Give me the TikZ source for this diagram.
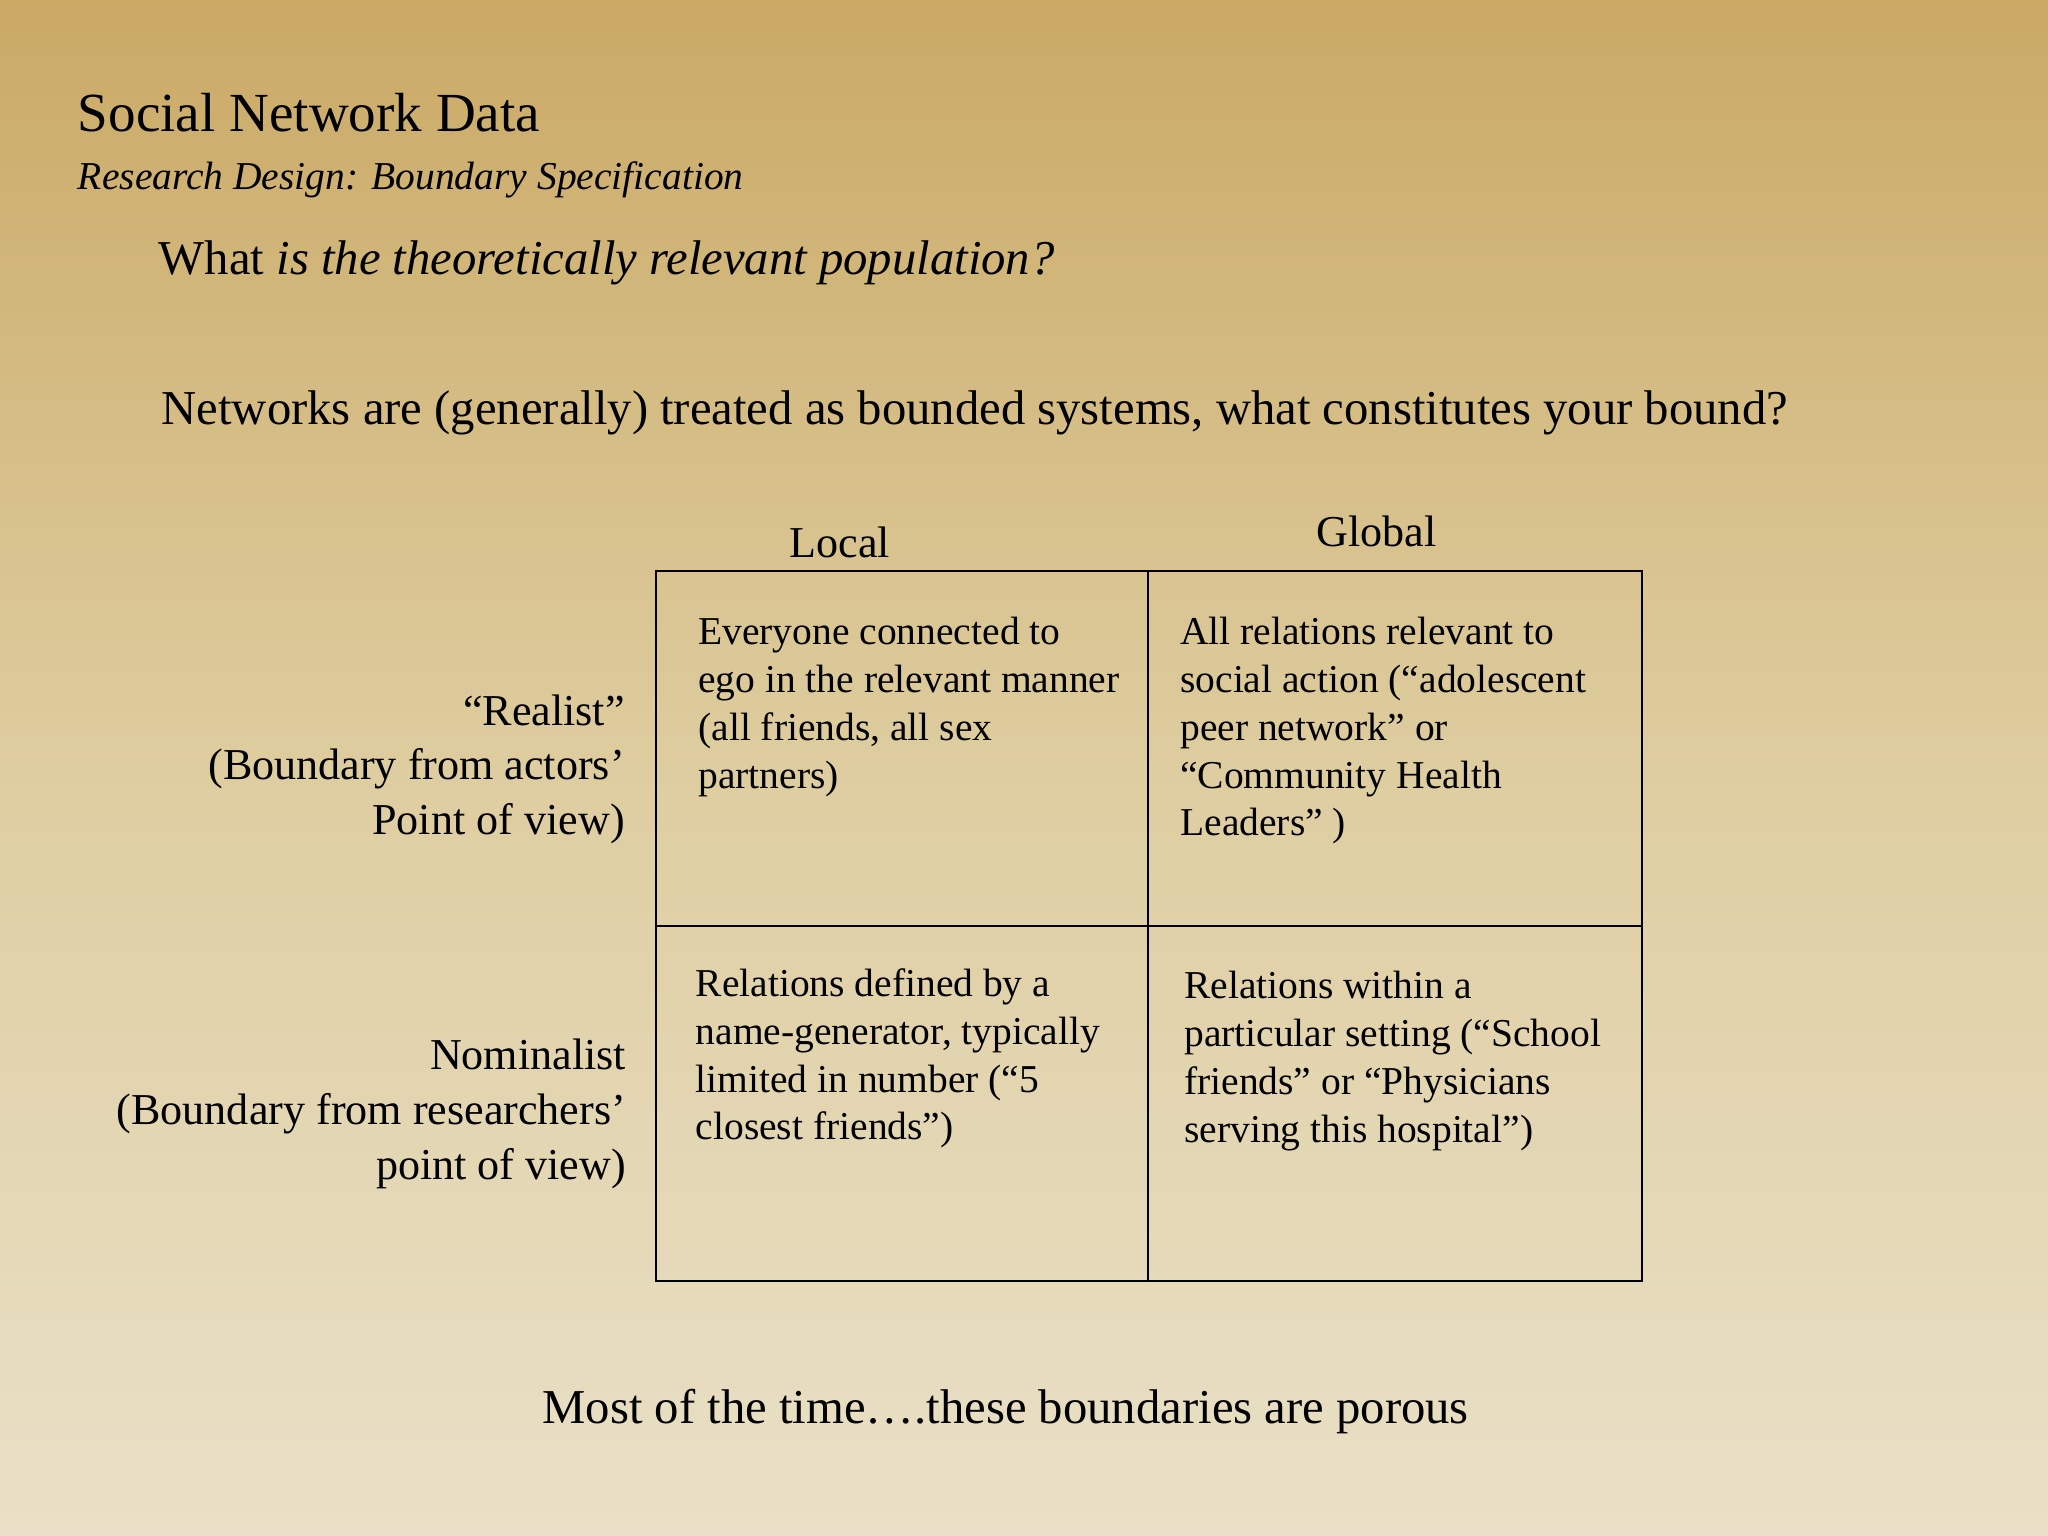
\documentclass[tikz,border=0pt]{standalone}
\usepackage{fontspec}
\setmainfont{Liberation Serif}
\begin{document}
\begin{tikzpicture}[x=0.01cm,y=-0.01cm,
  cell/.style={anchor=north west,align=left,inner sep=0pt,font=\fontsize{8.6pt}{10.4pt}\selectfont},
  lbl/.style={anchor=north east,align=right,inner sep=0pt,font=\fontsize{9.6pt}{11.9pt}\selectfont},
  head/.style={inner sep=0pt,font=\fontsize{9.6pt}{11pt}\selectfont}]
\shade[top color={rgb,255:red,202;green,169;blue,101},bottom color={rgb,255:red,233;green,224;blue,199},middle color={rgb,255:red,222;green,205;blue,160}] (0,0) rectangle (1568,1176);
\useasboundingbox (0,0) rectangle (1568,1176);
\node[anchor=west,inner sep=0pt,font=\fontsize{12pt}{14pt}\selectfont] (title) at (59,86) {Social Network Data};
\node[anchor=west,inner sep=0pt,font=\fontsize{8.6pt}{10pt}\selectfont\itshape] (sub) at (59,138) {Research Design: Boundary Specification};
\node[anchor=west,inner sep=0pt,font=\fontsize{10.6pt}{12pt}\selectfont] (q) at (121,201) {What \textit{is the theoretically relevant population?}};
\node[anchor=west,inner sep=0pt,font=\fontsize{10.6pt}{12pt}\selectfont] (nets) at (123,316) {Networks are (generally) treated as bounded systems, what constitutes your bound?};
\draw[line width=0.5pt] (502,437) rectangle (1257,981);
\draw[line width=0.5pt] (879,437) -- (879,981);
\draw[line width=0.5pt] (502,709) -- (1257,709);
\node[head] (local) at (643,415) {Local};
\node[head] (global) at (1054,407) {Global};
\node[cell] (c11) at (534,472) {Everyone connected to\\ego in the relevant manner\\(all friends, all sex\\partners)};
\node[cell] (c12) at (903,472) {All relations relevant to\\social action (“adolescent\\peer network” or\\“Community Health\\Leaders” )};
\node[cell] (c21) at (532,741) {Relations defined by a\\name-generator, typically\\limited in number (“5\\closest friends”)};
\node[cell] (c22) at (906,743) {Relations within a\\particular setting (“School\\friends” or “Physicians\\serving this hospital”)};
\node[lbl] (r1) at (479,531) {“Realist”\\(Boundary from actors’\\Point of view)};
\node[lbl] (r2) at (480,795) {Nominalist\hspace{10pt}\\(Boundary from researchers’\\point of view)};
\node[inner sep=0pt,font=\fontsize{10.6pt}{12pt}\selectfont] (most) at (770,1081) {Most of the time….these boundaries are porous};
\end{tikzpicture}
\end{document}
